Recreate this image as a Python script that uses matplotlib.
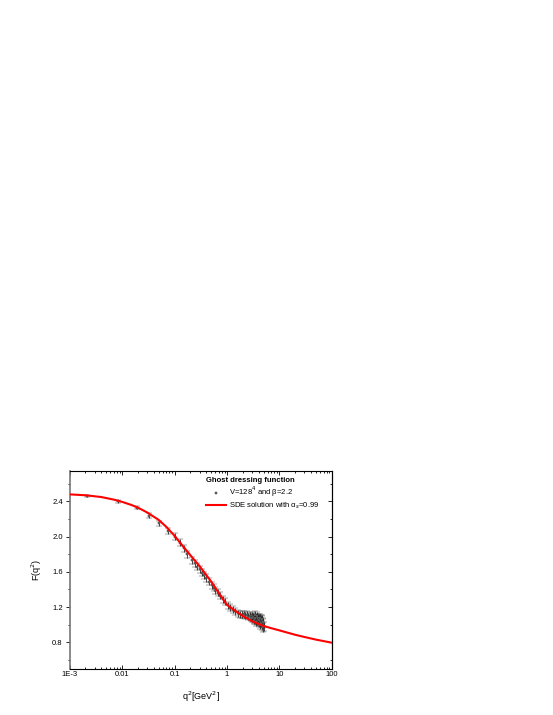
import numpy as np
import matplotlib
matplotlib.use('Agg')
from matplotlib import pyplot as plt
from matplotlib.lines import Line2D
from matplotlib.ticker import FixedLocator, LogLocator, NullFormatter

plt.rcParams['font.family'] = ['Liberation Sans', 'DejaVu Sans']

# lattice data, V=128^4, beta=2.2
q2_lat = [0.0021, 0.0083, 0.019, 0.033, 0.051, 0.074, 0.101, 0.125, 0.15,
          0.173, 0.215, 0.245, 0.27, 0.30, 0.335, 0.37, 0.405, 0.46, 0.52,
          0.56, 0.60, 0.67, 0.75, 0.83, 0.93, 1.04, 1.15, 1.28, 1.43, 1.6,
          1.78, 1.95, 2.1, 2.25, 2.4, 2.55, 2.7, 2.85, 3.0, 3.1, 3.2, 3.3,
          3.4, 3.5, 3.6, 3.7, 3.8, 3.9, 4.0, 4.1, 4.2, 4.3, 4.4, 4.5, 4.6,
          4.7, 4.8, 4.9, 3.05, 3.25, 3.45, 3.65, 3.85, 4.05, 4.25, 4.45, 4.65, 4.85, 5.0]
F_lat = [2.465, 2.40, 2.33, 2.24, 2.15, 2.06, 2.00, 1.93, 1.87,
         1.80, 1.73, 1.70, 1.66, 1.63, 1.59, 1.56, 1.53, 1.49, 1.45,
         1.42, 1.39, 1.36, 1.33, 1.29, 1.26, 1.22, 1.19, 1.17, 1.15, 1.13,
         1.12, 1.11, 1.12, 1.10, 1.11, 1.09, 1.10, 1.08, 1.10, 1.07, 1.09, 1.06,
         1.11, 1.05, 1.08, 1.04, 1.10, 1.06, 1.02, 1.08, 1.04, 1.00, 1.06, 1.03, 0.99,
         1.05, 0.97, 1.01, 1.08, 1.05, 1.07, 1.03, 1.08, 1.05, 1.07, 1.02, 1.06, 1.03, 0.98]
err_lat = [0.012, 0.015, 0.02, 0.025, 0.03, 0.035, 0.04, 0.04, 0.04,
           0.04, 0.04, 0.04, 0.04, 0.04, 0.04, 0.04, 0.04, 0.04, 0.04,
           0.04, 0.04, 0.04, 0.04, 0.04, 0.04, 0.04, 0.04, 0.04, 0.04, 0.04,
           0.04, 0.04, 0.04, 0.04, 0.04, 0.04, 0.04, 0.04, 0.045, 0.045, 0.045, 0.045,
           0.045, 0.045, 0.045, 0.045, 0.045, 0.045, 0.045, 0.045, 0.05, 0.05, 0.05, 0.05, 0.05,
           0.05, 0.05, 0.05, 0.045, 0.045, 0.045, 0.045, 0.045, 0.05, 0.05, 0.05, 0.05, 0.05, 0.05]

# SDE solution
q2_sde = [0.001, 0.002, 0.004, 0.007, 0.01, 0.015, 0.02, 0.03, 0.05, 0.07,
          0.1, 0.15, 0.2, 0.3, 0.5, 0.7, 1.0, 1.5, 2.0, 3.0, 5.0, 7.0, 10.0,
          20.0, 30.0, 50.0, 100.0]
F_sde = [2.48, 2.47, 2.45, 2.42, 2.395, 2.36, 2.33, 2.275, 2.19, 2.11,
         2.01, 1.88, 1.79, 1.665, 1.49, 1.36, 1.225, 1.15, 1.10, 1.04, 0.985,
         0.96, 0.935, 0.885, 0.86, 0.83, 0.795]

fig = plt.figure(figsize=(5.53, 7.15), dpi=100)
ax = fig.add_axes([0.126, 0.0648, 0.474, 0.277])

ax.errorbar(q2_lat, F_lat, yerr=err_lat, fmt='s', ms=1.8, mfc='#808080',
            mec='#222222', mew=0.3, ecolor='#2a2a2a', elinewidth=0.6,
            capsize=2.0, capthick=0.6, zorder=2)
ax.plot(q2_sde, F_sde, color='#ff0000', lw=1.5, zorder=3)

ax.set_xscale('log')
ax.set_xlim(1e-3, 100)
ax.set_ylim(0.5, 2.75)
ax.set_xticks([1e-3, 1e-2, 0.1, 1, 10, 100])
ax.set_xticklabels(['1E-3', '0.01', '0.1', '1', '10', '100'])
ax.xaxis.set_minor_locator(LogLocator(base=10, subs=np.arange(2, 10), numticks=20))
ax.xaxis.set_minor_formatter(NullFormatter())
ax.set_yticks([0.8, 1.2, 1.6, 2.0, 2.4])
ax.set_yticklabels(['0.8', '1.2', '1.6', '2.0', '2.4'])
ax.yaxis.set_minor_locator(FixedLocator([0.6, 1.0, 1.4, 1.8, 2.2, 2.6]))

ax.tick_params(axis='both', which='both', labelsize=5.5, width=0.6, pad=2)
ax.tick_params(axis='x', which='both', direction='in', top=True)
ax.tick_params(axis='y', which='both', direction='out', right=False)
ax.tick_params(which='major', length=3)
ax.tick_params(which='minor', length=1.6)

# right side ticks pointing inward
axr = ax.secondary_yaxis('right')
axr.set_yticks([0.8, 1.2, 1.6, 2.0, 2.4])
axr.yaxis.set_minor_locator(FixedLocator([0.6, 1.0, 1.4, 1.8, 2.2, 2.6]))
axr.tick_params(which='both', direction='in', labelright=False, width=0.6)
axr.tick_params(which='major', length=3)
axr.tick_params(which='minor', length=1.6)

for s in ax.spines.values():
    s.set_linewidth(0.8)
ax.spines['left'].set_color('#777777')
ax.spines['left'].set_linewidth(1.2)

ax.set_xlabel('q$^2$[GeV$^2$]', fontsize=6.5, labelpad=8)
ax.set_ylabel('F(q$^2$)', fontsize=6.5, labelpad=6)

handles = [
    Line2D([], [], ls='none', marker='s', ms=2.0, mfc='#808080', mec='#222222', mew=0.3),
    Line2D([], [], color='#ff0000', lw=1.5),
]
labels = ['V=128$^4$ and \u03b2=2.2', 'SDE solution with \u03b1$_s$=0.99']
leg = ax.legend(handles, labels, title='Ghost dressing function', loc='upper right',
                bbox_to_anchor=(0.975, 1.0), frameon=False, fontsize=5.5,
                title_fontsize=5.5, handlelength=2.6, handletextpad=0.4,
                labelspacing=0.15, borderpad=0.3)
leg.get_title().set_fontweight('bold')
leg._legend_box.align = 'left'

fig.savefig('out.png', dpi=100)
